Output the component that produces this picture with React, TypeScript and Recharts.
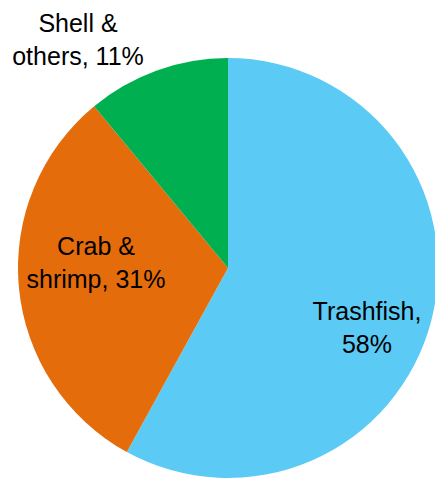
import { PieChart, Pie, Cell } from "recharts";

const categories = ["Trashfish", "Crab & shrimp", "Shell & others"];
const shares = [58, 31, 11];
const colors = ["#5BCBF5", "#E46C0A", "#00B050"];

// two-line labels as drawn in the reference
const labelLines = [
  ["Trashfish,", "58%"],
  ["Crab &", "shrimp, 31%"],
  ["Shell &", "others, 11%"],
];

// label anchor (first-line baseline) relative to pie centre
const labelOffsets = [
  { dx: 139, dy: 52 },
  { dx: -132, dy: -13 },
  { dx: -150, dy: -236 },
];

const data = categories.map((name, i) => ({ name, value: shares[i] }));

const CX = 228;
const CY = 268;

const renderLabel = (props: any) => {
  const i = props.index;
  const off = labelOffsets[i];
  const x = CX + off.dx;
  const y = CY + off.dy;
  return (
    <text
      key={i}
      x={x}
      y={y}
      textAnchor="middle"
      fill="#000"
      fontSize={25}
      fontFamily="'Liberation Sans', Arial, sans-serif"
    >
      <tspan x={x} y={y}>
        {labelLines[i][0]}
      </tspan>
      <tspan x={x} y={y + 33}>
        {labelLines[i][1]}
      </tspan>
    </text>
  );
};

export default function App() {
  return (
    <div style={{ position: "absolute", left: 0, top: 0, background: "#fff" }}>
      <PieChart
        width={435}
        height={479}
        margin={{ top: 0, right: 0, bottom: 0, left: 0 }}
      >
        <Pie
          data={data}
          dataKey="value"
          nameKey="name"
          cx={CX}
          cy={CY}
          outerRadius={210}
          startAngle={90}
          endAngle={-270}
          stroke="none"
          label={renderLabel}
          labelLine={false}
          isAnimationActive={false}
        >
          {data.map((d, i) => (
            <Cell key={d.name} fill={colors[i]} />
          ))}
        </Pie>
      </PieChart>
    </div>
  );
}
